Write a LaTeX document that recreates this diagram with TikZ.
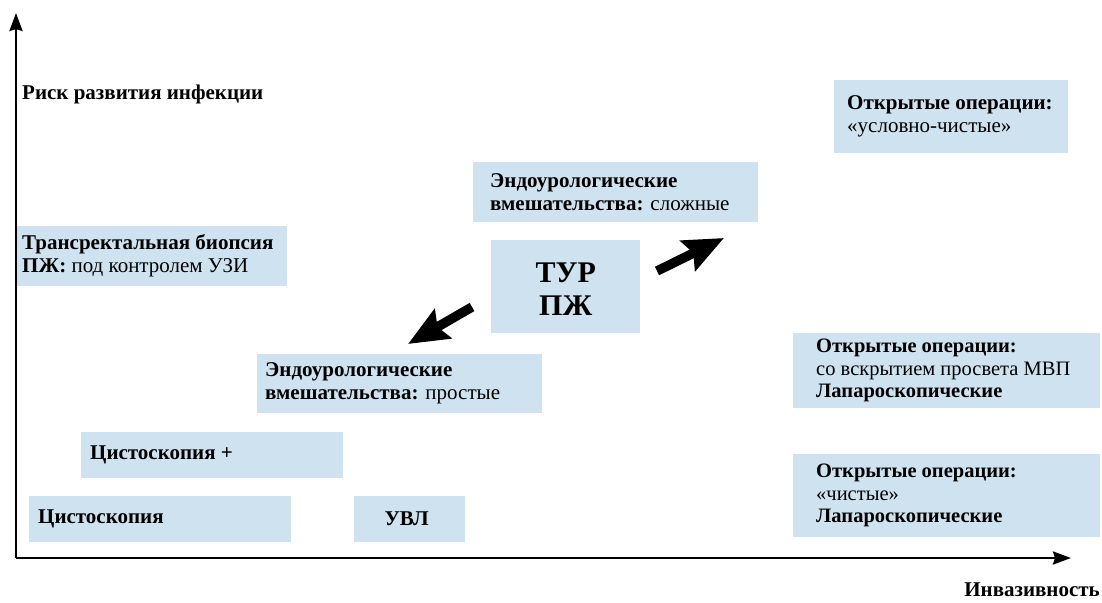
\documentclass[tikz,border=0pt]{standalone}
\usepackage{fontspec}
\setmainfont{Liberation Serif}
\usetikzlibrary{arrows.meta}
\definecolor{boxblue}{RGB}{207,226,240}
\begin{document}
\begin{tikzpicture}[x=1pt,y=-1pt,
  panel/.style={fill=boxblue, draw=none, anchor=north west, inner sep=0pt},
  txt/.style={anchor=west, inner sep=0pt, align=left, font=\fontsize{21}{23}\selectfont},
  btxt/.style={txt, font=\fontsize{21}{23}\selectfont\bfseries},
  axis/.style={line width=2.6pt, -{Stealth[length=18pt,width=13pt,inset=2pt]}},
  fat/.style={line width=9.5pt, -{Stealth[length=40pt,width=33pt,inset=6pt]}},
]
\useasboundingbox (0,0) rectangle (1102,602);

% axes
\coordinate (origin) at (16,558);
\coordinate (ytop) at (16,13);
\coordinate (xend) at (1071,558);
\draw[axis] (origin) -- (ytop);
\draw[axis] (origin) -- (xend);
\node[btxt, anchor=base west] (ylab) at (22,99) {Риск развития инфекции};
\node[btxt, anchor=base east] (xlab) at (1100,596) {Инвазивность};

% panels
\node[panel, minimum width=270pt, minimum height=60pt] (trus) at (17,226) {};
\node[txt] (trusT) at ([xshift=5pt]trus.west) {\textbf{Трансректальная биопсия}\\\textbf{ПЖ:} под контролем УЗИ};

\node[panel, minimum width=285pt, minimum height=60pt] (endoC) at (473,162) {};
\node[txt] (endoCT) at ([xshift=17pt]endoC.west) {\textbf{Эндоурологические}\\\textbf{вмешательства:} сложные};

\node[panel, minimum width=149pt, minimum height=93pt] (tur) at (491,240) {};
\node[anchor=center, inner sep=0pt, align=center, font=\fontsize{30}{33}\selectfont\bfseries] (turT) at ([yshift=-2pt]tur.center) {ТУР\\ПЖ};

\node[panel, minimum width=285pt, minimum height=59pt] (endoS) at (257,354) {};
\node[txt] (endoST) at ([xshift=8pt]endoS.west) {\textbf{Эндоурологические}\\\textbf{вмешательства:} простые};

\node[panel, minimum width=262pt, minimum height=46pt] (cystP) at (81,432) {};
\node[btxt] (cystPT) at ([xshift=9pt]cystP.west) {Цистоскопия +};

\node[panel, minimum width=262pt, minimum height=46pt] (cyst) at (29,496) {};
\node[btxt] (cystT) at ([xshift=9pt]cyst.west) {Цистоскопия};

\node[panel, minimum width=111pt, minimum height=46pt] (uvl) at (354,496) {};
\node[btxt, anchor=center] (uvlT) at ([xshift=-3pt]uvl.center) {УВЛ};

\node[panel, minimum width=234pt, minimum height=73pt] (openC) at (834,80) {};
\node[txt] (openCT) at ([xshift=13pt]openC.west) {\textbf{Открытые операции:}\\«условно-чистые»};

\node[panel, minimum width=307pt, minimum height=75pt] (openM) at (793,333) {};
\node[txt, font=\fontsize{20.5}{22.5}\selectfont] (openMT) at ([xshift=23pt]openM.west) {\textbf{Открытые операции:}\\со вскрытием просвета МВП\\\textbf{Лапароскопические}};

\node[panel, minimum width=307pt, minimum height=83pt] (openP) at (793,454) {};
\node[txt, font=\fontsize{20.5}{22.5}\selectfont] (openPT) at ([xshift=23pt]openP.west) {\textbf{Открытые операции:}\\«чистые»\\\textbf{Лапароскопические}};

% arrows out of the TUR panel
\coordinate (upTail) at (657,271);
\coordinate (upTip) at (724,238);
\coordinate (dnTail) at (472,307);
\coordinate (dnTip) at (408,344);
\draw[fat] (upTail) -- (upTip);
\draw[fat] (dnTail) -- (dnTip);
\end{tikzpicture}
\end{document}
